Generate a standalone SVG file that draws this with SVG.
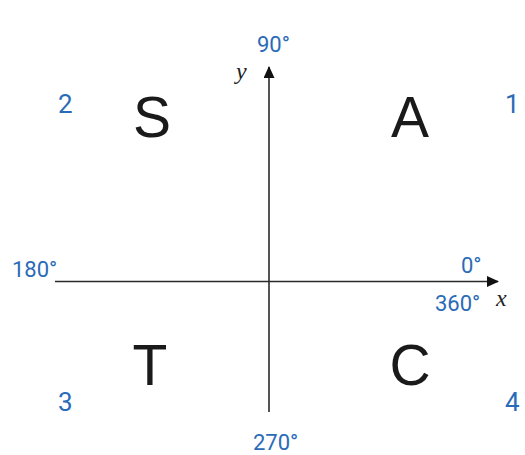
<svg xmlns="http://www.w3.org/2000/svg" width="525" height="455" viewBox="0 0 525 455">
<style>
.ax{stroke:#2a2a2a;stroke-width:1.6;fill:none}
.deg{font-family:Roboto,"Liberation Sans",sans-serif;font-size:22px;fill:#2a6bb8}
.num{font-family:Roboto,"Liberation Sans",sans-serif;font-size:26px;fill:#2a6bb8}
.big{font-family:"Liberation Sans",Arial,sans-serif;font-size:57px;fill:#1a1a1a}
.var{font-family:"Liberation Serif","DejaVu Serif",serif;font-style:italic;font-size:24px;fill:#222}
</style>
<defs>
<marker id="arr" viewBox="0 0 12 11" refX="11" refY="5.5" markerWidth="12" markerHeight="11" markerUnits="userSpaceOnUse" orient="auto">
<path d="M0,0 L12,5.5 L0,11 Z" fill="#111"/>
</marker>
</defs>
<rect width="525" height="455" fill="#fff"/>
<g id="connectors">
<line class="ax" x1="55" y1="281.5" x2="498" y2="281.5" marker-end="url(#arr)"/>
<line class="ax" x1="269" y1="412" x2="269" y2="67" marker-end="url(#arr)"/>
</g>
<g id="labels">
<text class="deg" x="257" y="52">90°</text>
<text class="var" x="236" y="79">y</text>
<text class="deg" x="12" y="277">180°</text>
<text class="deg" x="461" y="273">0°</text>
<text class="deg" x="435" y="311">360°</text>
<text class="var" x="496" y="306">x</text>
<text class="deg" x="253" y="450">270°</text>
</g>
<g id="q1"><text class="big" x="410" y="137" text-anchor="middle">A</text><text class="num" x="505" y="113">1</text></g>
<g id="q2"><text class="big" x="152" y="137" text-anchor="middle">S</text><text class="num" x="58" y="113">2</text></g>
<g id="q3"><text class="big" x="150" y="385" text-anchor="middle">T</text><text class="num" x="58" y="411">3</text></g>
<g id="q4"><text class="big" x="410" y="385" text-anchor="middle">C</text><text class="num" x="505" y="411">4</text></g>
</svg>
